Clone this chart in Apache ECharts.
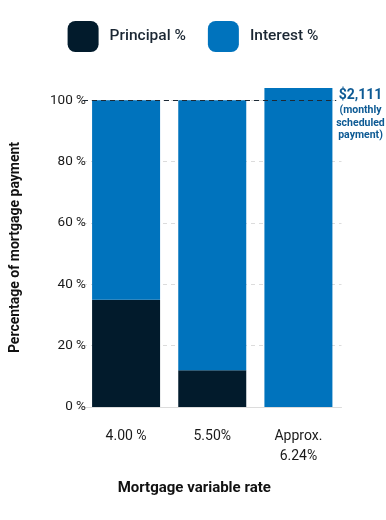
<!DOCTYPE html>
<html><head><meta charset="utf-8">
<script src="https://cdn.jsdelivr.net/npm/echarts@6/dist/echarts.min.js"></script>
<style>html,body{margin:0;padding:0;background:#fff}#c{width:386px;height:520px}</style>
</head><body><div id="c"></div>
<script>
const categories = ['4.00 %', '5.50%', 'Approx.\n6.24%'];
const principal = [35, 12, 0];
const interest = [65, 88, 104];
const yTicks = [0, 20, 40, 60, 80, 100];
const scheduledLevel = 100;
const annotation = ['$2,111', '(monthly', 'scheduled', 'payment)'];

const chart = echarts.init(document.getElementById('c'));
const FONT = 'Roboto';
chart.setOption({
  animation: false,
  textStyle: { fontFamily: FONT },
  legend: {
    top: 16, left: 'center',
    itemWidth: 31, itemHeight: 31, itemGap: 22,
    icon: 'roundRect',
    textStyle: { fontSize: 15.5, fontWeight: 500, color: '#1b2733', fontFamily: FONT, padding: [0, 0, 0, 6] },
    data: ['Principal %', 'Interest %']
  },
  grid: { left: 80.5, right: 44.5, top: 88, bottom: 113 },
  xAxis: {
    type: 'category', data: categories,
    axisTick: { show: false },
    axisLine: { lineStyle: { color: '#dcdcdc' } },
    axisLabel: { color: '#1a1a1a', fontSize: 14, margin: 19, lineHeight: 20, fontFamily: FONT },
    name: 'Mortgage variable rate', nameLocation: 'middle', nameGap: 74,
    nameTextStyle: { fontSize: 15, fontWeight: 'bold', color: '#111', fontFamily: FONT, padding: [0, 36, 0, 0] }
  },
  yAxis: {
    type: 'value', min: 0, max: 104, interval: 20,
    axisLabel: {
      color: '#1a1a1a', fontSize: 13.5, margin: -3, fontFamily: FONT,
      formatter: v => yTicks.includes(v) ? v + ' %' : ''
    },
    splitLine: { show: true, showMinLine: false, showMaxLine: false,
      lineStyle: { type: [4, 4], color: '#dcdcdc' } },
    name: 'Percentage of mortgage payment', nameLocation: 'middle', nameGap: 61, nameRotate: 90,
    nameTextStyle: { fontSize: 14, fontWeight: 'bold', color: '#111', fontFamily: FONT }
  },
  series: [
    { name: 'Principal %', type: 'bar', stack: 'a', data: principal, barWidth: 68,
      itemStyle: { color: '#021b2c' } },
    { name: 'Interest %', type: 'bar', stack: 'a', data: interest, barWidth: 68,
      itemStyle: { color: '#0073bd' },
      markLine: {
        symbol: 'none', silent: true,
        lineStyle: { type: [5, 4], color: '#1d2a36', width: 1 },
        data: [{ yAxis: scheduledLevel }],
        label: {
          show: true, position: 'end', distance: 4,
          formatter: '{a|' + annotation[0] + '}\n{b|' + annotation.slice(1).join('\n') + '}',
          align: 'center', verticalAlign: 'top', offset: [15, -13],
          backgroundColor: '#fff', padding: 0,
          rich: {
            a: { fontSize: 14, fontWeight: 'bold', color: '#0d5a94', fontFamily: FONT, lineHeight: 17, align: 'center' },
            b: { fontSize: 10.5, fontWeight: 'bold', color: '#0d5a94', fontFamily: FONT, lineHeight: 12.5, align: 'center' }
          }
        }
      }
    }
  ]
});
</script></body></html>
